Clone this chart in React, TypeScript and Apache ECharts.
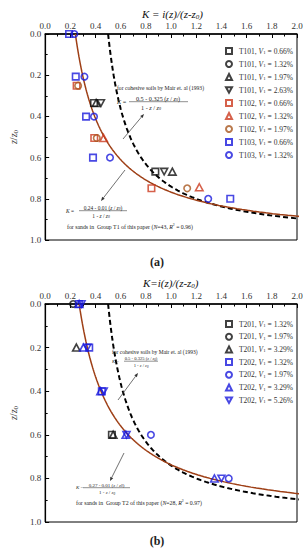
import React, { useEffect, useRef } from 'react';
import * as echarts from 'echarts';

const SERIF = '"Liberation Serif", "DejaVu Serif", serif';

// ---------- Panel (a) data: [K, z/z0] ----------
const A_T101_066 = [[0.388, 0.335], [0.875, 0.668]];
const A_T101_132: number[][] = [];
const A_T101_197 = [[0.405, 0.335], [1.01, 0.668]];
const A_T101_263 = [[0.443, 0.335], [0.945, 0.668]];
const A_T102_066 = [[0.25, 0.251], [0.39, 0.505], [0.844, 0.749]];
const A_T102_132 = [[0.464, 0.505], [1.224, 0.744]];
const A_T102_197 = [[0.262, 0.251], [0.41, 0.505], [1.128, 0.749]];
const A_T103_066 = [[0.19, 0], [0.243, 0.207], [0.325, 0.401], [0.38, 0.6], [1.47, 0.8]];
const A_T103_132 = [[0.232, 0], [0.312, 0.207], [0.388, 0.401], [0.515, 0.6], [1.295, 0.8]];

// ---------- Panel (b) data ----------
const B_T201_132 = [[0.53, 0.6]];
const B_T201_197 = [[0.222, 0]];
const B_T201_329 = [[0.248, 0.2], [0.54, 0.6]];
const B_T202_132 = [[0.268, 0], [0.35, 0.2], [0.45, 0.4]];
const B_T202_197 = [[0.84, 0.6], [1.458, 0.8]];
const B_T202_329 = [[0.27, 0], [0.304, 0.2], [0.44, 0.4], [0.641, 0.6], [1.344, 0.8]];
const B_T202_526 = [[0.289, 0], [0.335, 0.2], [0.465, 0.4], [0.646, 0.6], [1.4, 0.8]];

// fitted equations K = (a - b z/z0) / (1 - z/z0)
const FIT_T1 = [0.24, 0.01];
const FIT_T2 = [0.27, 0.01];
const FIT_MAIR = [0.5, 0.325];

const X_RANGE = [0, 2];
const Y_RANGE = [0, 1];

const SQUARE = 'rect';
const CIRCLE = 'circle';
const TRI = 'triangle';
const TRI_DOWN = 'path://M0,0L10,0L5,9Z';

const BLACK = '#111111';
const BLUE = '#1a1adc';
const RED = '#cc3a1e';
const BROWN = '#a8561e';
const FIT_COLOR = '#9e3f16';

function curve(c: number[]) {
  const pts: number[][] = [];
  for (let i = 0; i <= 240; i++) {
    const z = i * 0.004;
    pts.push([(c[0] - c[1] * z) / (1 - z), z]);
  }
  return pts;
}

function scatter(name: string, data: number[][], symbol: string, color: string, idx: number) {
  return {
    type: 'scatter',
    name,
    data,
    xAxisIndex: idx,
    yAxisIndex: idx,
    symbol,
    symbolSize: symbol === TRI_DOWN ? [7, 6.5] : symbol === TRI ? [7.5, 7] : 6.5,
    itemStyle: { color: 'rgba(0,0,0,0)', borderColor: color, borderWidth: 1.6 },
    z: 5,
  };
}

function lineSeries(c: number[], idx: number, color: string, dashed: boolean) {
  return {
    type: 'line',
    data: curve(c),
    xAxisIndex: idx,
    yAxisIndex: idx,
    showSymbol: false,
    symbol: 'none',
    clip: true,
    lineStyle: dashed ? { color, width: 2, type: [5, 3] } : { color, width: 1.5 },
    z: 2,
  };
}

const richSmall = (fs: number) => ({
  i: { fontStyle: 'italic', fontFamily: SERIF, fontSize: fs, fill: '#222' },
  s: { fontStyle: 'italic', fontFamily: SERIF, fontSize: fs * 0.65, padding: [fs * 0.45, 0, 0, 0], fill: '#222' },
  u: { fontFamily: SERIF, fontSize: fs * 0.65, padding: [0, 0, fs * 0.6, 0], fill: '#222' },
});

function txt(x: number, y: number, text: string, fs: number, align = 'left', extra: any = {}) {
  return {
    type: 'text',
    x,
    y,
    z: 20,
    style: {
      text,
      fontFamily: SERIF,
      fontSize: fs,
      fill: '#222',
      align,
      verticalAlign: 'middle',
      rich: richSmall(fs),
      ...extra,
    },
  };
}

function arrow(x1: number, y1: number, x2: number, y2: number) {
  const dx = x2 - x1, dy = y2 - y1;
  const L = Math.sqrt(dx * dx + dy * dy);
  const ux = dx / L, uy = dy / L;
  const hl = 4, hw = 1.6;
  const bx = x2 - ux * hl, by = y2 - uy * hl;
  return [
    { type: 'line', z: 20, shape: { x1, y1, x2: bx, y2: by }, style: { stroke: '#333', lineWidth: 0.7 } },
    {
      type: 'polygon', z: 20,
      shape: { points: [[x2, y2], [bx - uy * hw, by + ux * hw], [bx + uy * hw, by - ux * hw]] },
      style: { fill: '#333' },
    },
  ];
}

function fraction(kx: number, ky: number, fs: number, num: string, numC: number, numL: number, numR: number, denC: number) {
  return [
    txt(kx, ky - 0.5, '{i|K} =', fs),
    txt(numC, ky - fs * 0.6, num, fs, 'center'),
    { type: 'line', z: 20, shape: { x1: numL, y1: ky - 0.3, x2: numR, y2: ky - 0.3 }, style: { stroke: '#222', lineWidth: 0.5 } },
    txt(denC, ky + fs * 0.85, '1 - {i|z} / {i|z}{s|0}', fs, 'center'),
  ];
}

function axes(idx: number) {
  const x = {
    type: 'value',
    gridIndex: idx,
    position: 'top',
    min: X_RANGE[0],
    max: X_RANGE[1],
    interval: 0.2,
    axisLine: { show: true, lineStyle: { color: '#000', width: 1.5 } },
    axisTick: { show: true, inside: true, length: 4, lineStyle: { color: '#000', width: 1 } },
    minorTick: { show: true, splitNumber: 2, length: 2.5, lineStyle: { color: '#000', width: 1 } },
    splitLine: { show: false },
    axisLabel: { formatter: (v: number) => v.toFixed(1), fontFamily: SERIF, fontSize: 9, color: '#333', margin: 4 },
  };
  const y = {
    type: 'value',
    gridIndex: idx,
    inverse: true,
    min: Y_RANGE[0],
    max: Y_RANGE[1],
    interval: 0.2,
    name: '{i|z}/{i|z}{s|0}',
    nameLocation: 'middle',
    nameRotate: 90,
    nameGap: 25,
    nameTextStyle: {
      fontFamily: SERIF,
      fontSize: 10,
      color: '#333',
      rich: {
        i: { fontStyle: 'italic', fontFamily: SERIF, fontSize: 10, color: '#333' },
        s: { fontFamily: SERIF, fontSize: 7, color: '#333', padding: [5, 0, 0, 0] },
      },
    },
    axisLine: { show: true, lineStyle: { color: '#000', width: 1.2 } },
    axisTick: { show: true, inside: true, length: 4, lineStyle: { color: '#000', width: 1 } },
    minorTick: { show: true, splitNumber: 2, length: 2.5, lineStyle: { color: '#000', width: 1 } },
    splitLine: { show: false },
    axisLabel: { formatter: (v: number) => v.toFixed(1), fontFamily: SERIF, fontSize: 9, color: '#333', margin: 4 },
  };
  return { x, y };
}

const legendText = {
  fontFamily: SERIF,
  fontSize: 7.5,
  color: '#333',
  padding: [0, 0, 0, 2],
  rich: {
    i: { fontStyle: 'italic', fontFamily: SERIF, fontSize: 7.5, color: '#333' },
    s: { fontFamily: SERIF, fontSize: 5, color: '#333', padding: [3, 0, 0, 0] },
  },
};

const legendFormatter = (name: string) => name.replace('V1', '{i|V}{s|1}');

export default function App() {
  const ref = useRef<HTMLDivElement>(null);
  useEffect(() => {
    if (!ref.current) return;
    const chart = echarts.init(ref.current, undefined, { renderer: 'svg' });
    const a = axes(0);
    const b = axes(1);

    const seriesA = [
      scatter('T101, V1 = 0.66%', A_T101_066, SQUARE, BLACK, 0),
      scatter('T101, V1 = 1.32%', A_T101_132, CIRCLE, BLACK, 0),
      scatter('T101, V1 = 1.97%', A_T101_197, TRI, BLACK, 0),
      scatter('T101, V1 = 2.63%', A_T101_263, TRI_DOWN, BLACK, 0),
      scatter('T102, V1 = 0.66%', A_T102_066, SQUARE, RED, 0),
      scatter('T102, V1 = 1.32%', A_T102_132, TRI, RED, 0),
      scatter('T102, V1 = 1.97%', A_T102_197, CIRCLE, BROWN, 0),
      scatter('T103, V1 = 0.66%', A_T103_066, SQUARE, BLUE, 0),
      scatter('T103, V1 = 1.32%', A_T103_132, CIRCLE, BLUE, 0),
    ];
    const seriesB = [
      scatter('T201, V1 = 1.32%', B_T201_132, SQUARE, BLACK, 1),
      scatter('T201, V1 = 1.97%', B_T201_197, CIRCLE, BLACK, 1),
      scatter('T201, V1 = 3.29%', B_T201_329, TRI, BLACK, 1),
      scatter('T202, V1 = 1.32%', B_T202_132, SQUARE, BLUE, 1),
      scatter('T202, V1 = 1.97%', B_T202_197, CIRCLE, BLUE, 1),
      scatter('T202, V1 = 3.29%', B_T202_329, TRI, BLUE, 1),
      scatter('T202, V1 = 5.26%', B_T202_526, TRI_DOWN, BLUE, 1),
    ];

    const graphics: any[] = [
      // panel a annotations
      txt(117, 88, 'for cohesive soils by Mair et. al (1993)', 5.6),
      ...fraction(117, 102, 6.2, '0.5 - 0.325 ({i|z} / {i|z}{s|0})', 158, 129, 188, 151),
      ...arrow(123, 139, 144, 114),
      ...fraction(66, 211, 5.4, '0.24 - 0.01 ({i|z} / {i|z}{s|0})', 103, 79, 127, 101),
      txt(67, 227, 'for sands in  Group T1 of this paper ({i|N}=43, {i|R}{u|2} = 0.96)', 5.8),
      ...arrow(125, 170, 101, 201),
      txt(157, 262, '(a)', 12, 'center', { fontWeight: 'bold' }),
      // panel b annotations
      txt(112, 352, 'for cohesive soils by Mair et. al (1993)', 5.5),
      ...fraction(112, 361.5, 4.6, '0.5 - 0.325 ({i|z} / {i|z}{s|0})', 141, 124, 158, 141),
      ...arrow(118, 400, 138, 373),
      ...fraction(76, 488, 5, '0.27 - 0.01 ({i|z} / {i|z}{s|0})', 106.5, 83, 130, 107),
      txt(76, 503, 'for sands in  Group T2 of this paper ({i|N}=28, {i|R}{u|2} = 0.97)', 5.8),
      ...arrow(124, 453, 110, 481),
      txt(157, 541, '(b)', 12, 'center', { fontWeight: 'bold' }),
    ];

    const titleRich = {
      s: { fontFamily: SERIF, fontStyle: 'italic', fontSize: 7, color: '#111', padding: [5, 0, 0, 0] },
    };

    chart.setOption({
      animation: false,
      backgroundColor: '#ffffff',
      title: [
        {
          text: 'K = i(z)/(z-z{s|0})',
          left: 137,
          top: 3,
          textStyle: { fontFamily: SERIF, fontStyle: 'italic', fontWeight: 'normal', fontSize: 11, color: '#111', rich: titleRich },
        },
        {
          text: 'K=i(z)/(z-z{s|0})',
          left: 138,
          top: 272,
          textStyle: { fontFamily: SERIF, fontStyle: 'italic', fontWeight: 'normal', fontSize: 11, color: '#111', rich: titleRich },
        },
      ],
      grid: [
        { left: 34, top: 34, width: 263, height: 206, show: true, borderColor: '#000', borderWidth: 1, backgroundColor: 'transparent' },
        { left: 34, top: 304, width: 263, height: 218, show: true, borderColor: '#000', borderWidth: 1, backgroundColor: 'transparent' },
      ],
      xAxis: [a.x, b.x],
      yAxis: [a.y, b.y],
      legend: [
        {
          data: seriesA.map((s) => s.name),
          orient: 'vertical',
          left: 220,
          top: 42,
          itemWidth: 6,
          itemHeight: 6,
          itemGap: 5,
          selectedMode: false,
          formatter: legendFormatter,
          textStyle: legendText,
        },
        {
          data: seriesB.map((s) => s.name),
          orient: 'vertical',
          left: 220,
          top: 315,
          itemWidth: 6,
          itemHeight: 6,
          itemGap: 4.7,
          selectedMode: false,
          formatter: legendFormatter,
          textStyle: legendText,
        },
      ],
      series: [
        lineSeries(FIT_MAIR, 0, '#000', true),
        lineSeries(FIT_T1, 0, FIT_COLOR, false),
        lineSeries(FIT_MAIR, 1, '#000', true),
        lineSeries(FIT_T2, 1, FIT_COLOR, false),
        ...seriesA,
        ...seriesB,
      ],
      graphic: graphics,
    });
    return () => chart.dispose();
  }, []);
  return <div ref={ref} style={{ position: 'fixed', left: 0, top: 0, width: 307, height: 550 }} />;
}
